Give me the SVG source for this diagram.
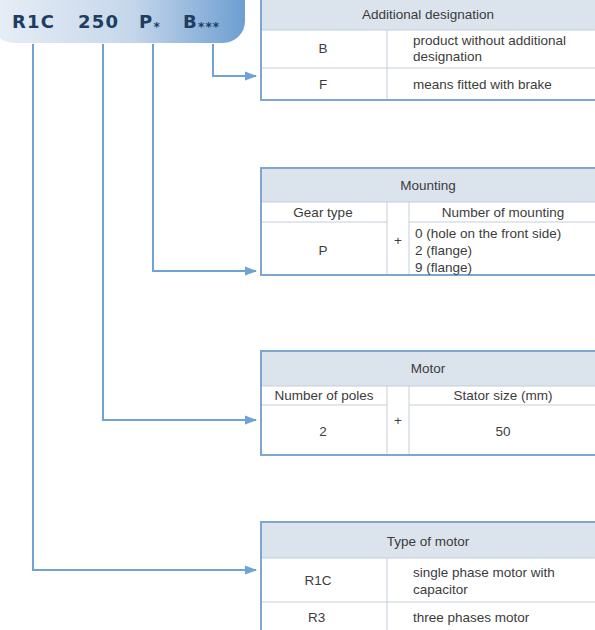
<svg xmlns="http://www.w3.org/2000/svg" width="595" height="630" viewBox="0 0 595 630">
<defs>
<linearGradient id="pill" x1="0" y1="0" x2="1" y2="0">
<stop offset="0" stop-color="#e8eef6"/>
<stop offset="0.55" stop-color="#c6d7eb"/>
<stop offset="1" stop-color="#6d9ed1"/>
</linearGradient>
<marker id="arr" viewBox="0 0 12 10" refX="11" refY="5" markerWidth="12" markerHeight="10" markerUnits="userSpaceOnUse" orient="auto">
<path d="M0,0.5 L12,5 L0,9.5 z" fill="#6fa3d3"/>
</marker>
<style>
.t{font-family:"Liberation Sans",Arial,sans-serif;font-size:13.5px;fill:#3c3c3c}
.c{text-anchor:middle}
.hd{fill:#dbe3ec}
.ob{fill:none;stroke:#7ea6cf;stroke-width:2}
.in{stroke:#c3cfdb;stroke-width:1}
.cn{fill:none;stroke:#6fa3d3;stroke-width:2}
.code{font-family:"DejaVu Sans","Liberation Sans",sans-serif;font-weight:bold;font-size:18px;fill:#1e3d63;letter-spacing:1.2px}
</style>
</defs>
<rect width="595" height="630" fill="#ffffff"/>

<g id="code">
<rect x="-8" y="-25" width="253" height="68" rx="22" fill="url(#pill)"/>
<text class="code" x="12" y="28">R1C</text>
<text class="code" x="78" y="28">250</text>
<text class="code" x="139" y="28">P<tspan font-size="12" dy="3">*</tspan></text>
<text class="code" x="183" y="28">B<tspan font-size="12" dy="3">***</tspan></text>
</g>

<g id="connectors">
<path class="cn" d="M213,44 V76 H256" marker-end="url(#arr)"/>
<path class="cn" d="M153,44 V271 H256" marker-end="url(#arr)"/>
<path class="cn" d="M103,44 V420 H256" marker-end="url(#arr)"/>
<path class="cn" d="M33,44 V570 H256" marker-end="url(#arr)"/>
</g>

<g id="additional-designation">
<rect class="hd" x="261" y="-2" width="340" height="32"/>
<line class="in" x1="261" y1="30" x2="600" y2="30"/>
<line class="in" x1="261" y1="68" x2="600" y2="68"/>
<line class="in" x1="387" y1="30" x2="387" y2="100"/>
<rect class="ob" x="261" y="-2" width="340" height="102"/>
<text class="t c" x="428" y="19">Additional designation</text>
<text class="t c" x="323" y="53">B</text>
<text class="t" x="413" y="45">product without additional</text>
<text class="t" x="413" y="61">designation</text>
<text class="t c" x="323" y="89">F</text>
<text class="t" x="413" y="89">means fitted with brake</text>
</g>

<g id="mounting">
<rect class="hd" x="261" y="168" width="340" height="34"/>
<line class="in" x1="261" y1="202" x2="600" y2="202"/>
<line class="in" x1="261" y1="222" x2="387" y2="222"/>
<line class="in" x1="409" y1="222" x2="600" y2="222"/>
<line class="in" x1="387" y1="202" x2="387" y2="275"/>
<line class="in" x1="409" y1="202" x2="409" y2="275"/>
<rect class="ob" x="261" y="168" width="340" height="107"/>
<text class="t c" x="428" y="190">Mounting</text>
<text class="t c" x="323" y="217">Gear type</text>
<text class="t c" x="503" y="217">Number of mounting</text>
<text class="t c" x="323" y="255">P</text>
<text class="t c" x="398" y="245">+</text>
<text class="t" x="415" y="238">0 (hole on the front side)</text>
<text class="t" x="415" y="255">2 (flange)</text>
<text class="t" x="415" y="272">9 (flange)</text>
</g>

<g id="motor">
<rect class="hd" x="261" y="351" width="340" height="35"/>
<line class="in" x1="261" y1="386" x2="600" y2="386"/>
<line class="in" x1="261" y1="405" x2="387" y2="405"/>
<line class="in" x1="409" y1="405" x2="600" y2="405"/>
<line class="in" x1="387" y1="386" x2="387" y2="455"/>
<line class="in" x1="409" y1="386" x2="409" y2="455"/>
<rect class="ob" x="261" y="351" width="340" height="104"/>
<text class="t c" x="428" y="373">Motor</text>
<text class="t c" x="324" y="400">Number of poles</text>
<text class="t c" x="503" y="400">Stator size (mm)</text>
<text class="t c" x="323" y="436">2</text>
<text class="t c" x="398" y="425">+</text>
<text class="t c" x="503" y="436">50</text>
</g>

<g id="type-of-motor">
<rect class="hd" x="261" y="522" width="340" height="36"/>
<line class="in" x1="261" y1="558" x2="600" y2="558"/>
<line class="in" x1="261" y1="602" x2="600" y2="602"/>
<line class="in" x1="387" y1="558" x2="387" y2="640"/>
<rect class="ob" x="261" y="522" width="340" height="120"/>
<text class="t c" x="428" y="546">Type of motor</text>
<text class="t c" x="318" y="585">R1C</text>
<text class="t" x="413" y="577">single phase motor with</text>
<text class="t" x="413" y="594">capacitor</text>
<text class="t" x="308" y="622">R3</text>
<text class="t" x="413" y="622">three phases motor</text>
</g>
</svg>
